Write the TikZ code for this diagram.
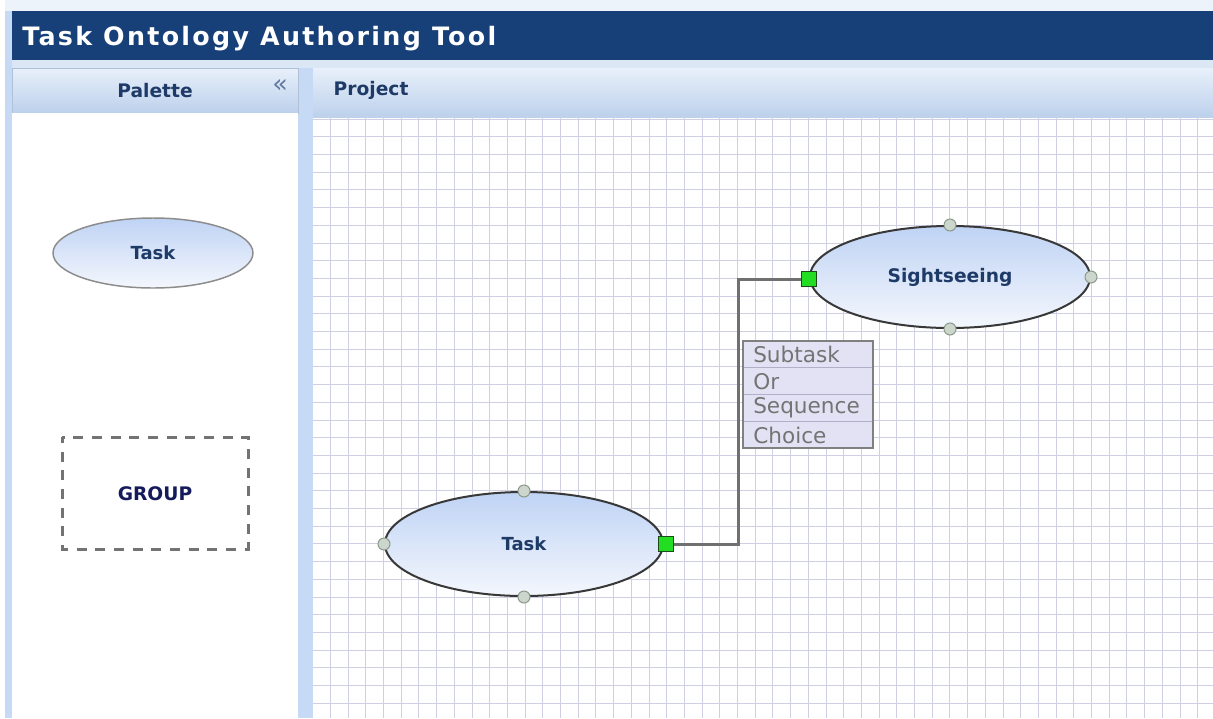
\documentclass[tikz,border=0pt]{standalone}
\usepackage{fontspec}
\setmainfont{DejaVu Sans}
\newfontfamily\titlefont[LetterSpace=9]{DejaVu Sans}
\usetikzlibrary{shapes.geometric}
\definecolor{titlebg}{HTML}{173F78}
\definecolor{bgblue}{HTML}{DCE7F6}
\definecolor{sideblue}{HTML}{C6DAF6}
\definecolor{hdrtop}{HTML}{E8F0FA}
\definecolor{hdrmid}{HTML}{C6D8F0}
\definecolor{hdrbot}{HTML}{BCD0EC}
\definecolor{labelblue}{HTML}{1E3A66}
\definecolor{groupblue}{HTML}{151A5A}
\definecolor{gridline}{HTML}{D0D0E4}
\definecolor{elltop}{HTML}{BFD3F4}
\definecolor{ellbot}{HTML}{F4F7FD}
\definecolor{handlefill}{HTML}{CDD6CD}
\definecolor{handledraw}{HTML}{8A9A8A}
\definecolor{portgreen}{HTML}{22DD22}
\definecolor{portdraw}{HTML}{1A4A1A}
\definecolor{connector}{HTML}{707070}
\definecolor{menufill}{HTML}{E2E2F4}
\definecolor{menuline}{HTML}{B0B0C8}
\definecolor{menutext}{HTML}{747474}
\definecolor{chevron}{HTML}{6078A0}
\tikzset{
  taskell/.style={ellipse, draw=black!78, line width=1.5pt, top color=elltop, bottom color=ellbot,
    inner sep=0pt, font=\fontsize{13.5}{15}\selectfont\bfseries, text=labelblue},
  handle/.style={circle, draw=handledraw, fill=handlefill, line width=0.75pt, inner sep=0pt, minimum size=9pt},
  port/.style={rectangle, draw=portdraw, fill=portgreen, line width=1pt, inner sep=0pt, minimum size=11pt},
  hdrtext/.style={font=\fontsize{14}{16}\selectfont\bfseries, text=labelblue},
  menuitem/.style={anchor=west, font=\fontsize{16.2}{17}\selectfont, text=menutext, inner sep=0pt},
  conn/.style={draw=connector, line width=2.25pt}
}
\begin{document}
\begin{tikzpicture}[x=0.75pt,y=-0.75pt]
\useasboundingbox (0,0) rectangle (1213,718);
% background
\fill[bgblue] (0,0) rectangle (1213,718);
\fill[white] (0,0) rectangle (5,718);
\fill[sideblue] (5,11) rectangle (12,718);
\fill[hdrtop!80!white] (5,0) rectangle (1213,11);
% title bar
\fill[titlebg] (12,11) rectangle (1213,60);
\node[anchor=base west, inner sep=0pt, text=white, font=\titlefont\fontsize{19}{21}\selectfont\bfseries] (title) at (22,45) {Task Ontology Authoring Tool};
% separator strip
\fill[sideblue] (298,68) rectangle (313,718);
% palette header
\shade[top color=hdrtop, middle color=hdrmid, bottom color=hdrbot] (12,68) rectangle (298,113);
\draw[hdrbot!80!gray, line width=0.75pt] (12,68) rectangle (298,113);
\node[hdrtext] (palette) at (155,91) {Palette};
\node[font=\fontsize{19}{20}\selectfont, text=chevron, inner sep=0pt] (collapse) at (280,86) {«};
% palette body
\fill[white] (12,113) rectangle (298,718);
% project header
\shade[top color=hdrtop, middle color=hdrmid, bottom color=hdrbot] (313,68) rectangle (1213,118);
\node[hdrtext, anchor=west] (project) at (329,90) {Project};
% grid area
\fill[white] (313,118) rectangle (1213,718);
\begin{scope}
\clip (313,118) rectangle (1213,718);
\foreach \i in {0,...,51} {
  \pgfmathsetmacro{\gx}{round(312.3+17.7*\i)+0.5}
  \draw[gridline, line width=0.75pt] (\gx,118) -- (\gx,718);
}
\foreach \j in {0,...,34} {
  \pgfmathsetmacro{\gy}{round(118.7+17.7*\j)+0.5}
  \draw[gridline, line width=0.75pt] (313,\gy) -- (1213,\gy);
}
\end{scope}
% palette items
\node[taskell, draw=black!45, line width=1.1pt, minimum width=150pt, minimum height=52.5pt] (ptask) at (153,253) {Task};
\draw[black!55, line width=2.25pt, dash pattern=on 7.5pt off 6.5pt, dash phase=3pt] (62,437) rectangle (248,549);
\node[font=\fontsize{14}{16}\selectfont\bfseries, text=groupblue] (group) at (155,494) {GROUP};
% diagram nodes
\node[taskell, minimum width=210pt, minimum height=76.5pt, font=\fontsize{14}{16}\selectfont\bfseries] (sight) at (950,277) {Sightseeing};
\node[taskell, minimum width=208.5pt, minimum height=78pt] (task) at (524,544) {Task};
% handles
\node[handle] (sh1) at (sight.north) {};
\node[handle] (sh2) at (sight.south) {};
\node[handle] (sh3) at (sight.east) {};
\node[handle] (th1) at (task.north) {};
\node[handle] (th2) at (task.south) {};
\node[handle] (th3) at (task.west) {};
% connector
\coordinate (elbow) at (738,400);
\node[port] (tport) at (666,544) {};
\node[port] (sport) at (809,279) {};
\draw[conn] (tport.east) -- (tport.east -| elbow) |- (sport.west);
\node[port] at (666,544) {};
\node[port] at (809,279) {};
% menu
\node[draw=black!50, fill=menufill, line width=1.1pt, minimum width=97.5pt, minimum height=80.25pt, inner sep=0pt] (menu) at (808,394.5) {};
\draw[menuline, line width=0.75pt] (744,367.75) -- (872,367.75);
\draw[menuline, line width=0.75pt] (744,394.5) -- (872,394.5);
\draw[menuline, line width=0.75pt] (744,421.25) -- (872,421.25);
\node[menuitem] (m1) at (753,354.5) {Subtask};
\node[menuitem] (m2) at (753,381.5) {Or};
\node[menuitem] (m3) at (753,408) {Sequence};
\node[menuitem] (m4) at (753,435) {Choice};
\end{tikzpicture}
\end{document}
